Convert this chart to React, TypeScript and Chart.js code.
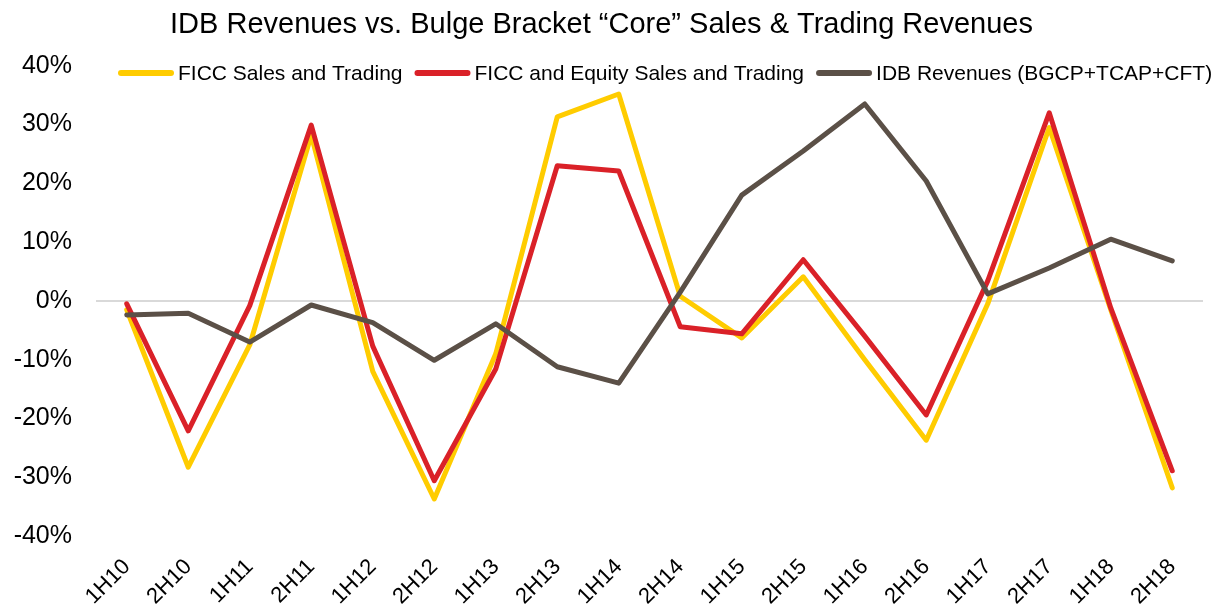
import React, { useEffect, useRef } from "react";
import { Chart, registerables } from "chart.js";

Chart.register(...registerables);

const categories = [
  "1H10", "2H10", "1H11", "2H11", "1H12", "2H12", "1H13", "2H13", "1H14",
  "2H14", "1H15", "2H15", "1H16", "2H16", "1H17", "2H17", "1H18", "2H18",
];

const ficcSalesTrading = [
  -1.5, -28.3, -7.5, 28.2, -12.0, -33.7, -9.0, 31.3, 35.2,
  0.8, -6.3, 4.1, -10.0, -23.7, -0.5, 29.5, -1.5, -31.8,
];

const ficcEquitySalesTrading = [
  -0.5, -22.1, -0.8, 29.9, -7.7, -30.6, -11.6, 23.0, 22.1,
  -4.4, -5.6, 7.0, -6.0, -19.4, 3.4, 32.0, -1.2, -28.9,
];

const idbRevenues = [
  -2.4, -2.1, -7.0, -0.7, -3.7, -10.1, -3.9, -11.2, -14.0,
  1.5, 18.0, 25.5, 33.5, 20.4, 1.2, 5.6, 10.5, 6.8,
];

const seriesNames = [
  "FICC Sales and Trading",
  "FICC and Equity Sales and Trading",
  "IDB Revenues (BGCP+TCAP+CFT)",
];
const seriesColors = ["#FFCC00", "#DA2128", "#5B5047"];

const yMin = -40;
const yMax = 40;
const yStep = 10;

const titleText = "IDB Revenues vs. Bulge Bracket \u201CCore\u201D Sales & Trading Revenues";

const FONT = "'Liberation Sans', Arial, Helvetica, sans-serif";

const legendPlugin = {
  id: "customLegend",
  afterDraw(chart: any) {
    const ctx = chart.ctx;
    ctx.save();
    ctx.font = `21px ${FONT}`;
    ctx.textBaseline = "alphabetic";
    ctx.textAlign = "left";
    let x = 118;
    const lineY = 73;
    const textY = 80;
    chart.data.datasets.forEach((ds: any) => {
      ctx.strokeStyle = ds.borderColor;
      ctx.lineWidth = 6;
      ctx.lineCap = "round";
      ctx.beginPath();
      ctx.moveTo(x + 3, lineY);
      ctx.lineTo(x + 53, lineY);
      ctx.stroke();
      x += 60;
      ctx.fillStyle = "#000000";
      ctx.fillText(ds.label, x, textY);
      x += ctx.measureText(ds.label).width + 12;
    });
    ctx.restore();
  },
};

export default function App() {
  const canvasRef = useRef<HTMLCanvasElement | null>(null);

  useEffect(() => {
    document.body.style.margin = "0";
    const canvas = canvasRef.current;
    if (!canvas) return;
    const seriesData = [ficcSalesTrading, ficcEquitySalesTrading, idbRevenues];
    const chart = new Chart(canvas, {
      type: "line",
      data: {
        labels: categories,
        datasets: seriesData.map((d, i) => ({
          label: seriesNames[i],
          data: d,
          borderColor: seriesColors[i],
          backgroundColor: seriesColors[i],
          borderWidth: 5,
          pointRadius: 0,
          pointHoverRadius: 0,
          tension: 0,
          fill: false,
          borderJoinStyle: "round" as const,
          borderCapStyle: "round" as const,
          order: 2 - i,
        })),
      },
      options: {
        responsive: false,
        animation: false,
        devicePixelRatio: 1,
        events: [],
        layout: { padding: { left: 0, right: 18, top: 0, bottom: 0 } },
        plugins: {
          legend: { display: false },
          tooltip: { enabled: false },
          title: {
            display: true,
            text: titleText,
            color: "#000000",
            font: { family: FONT, size: 29, weight: "normal" as const },
            padding: { top: 8, bottom: 23 },
          },
        },
        scales: {
          x: {
            type: "category",
            offset: true,
            grid: { display: false, drawTicks: false },
            border: { display: false },
            ticks: {
              color: "#000000",
              font: { family: FONT, size: 22 },
              minRotation: 45,
              maxRotation: 45,
              autoSkip: false,
              padding: 18,
            },
            afterFit: (scale: any) => {
              scale.height = 76;
            },
          },
          y: {
            min: yMin,
            max: yMax,
            grid: {
              drawTicks: false,
              lineWidth: 2,
              color: (c: any) => (c.tick && c.tick.value === 0 ? "#D9D9D9" : "rgba(0,0,0,0)"),
            },
            border: { display: false },
            ticks: {
              stepSize: yStep,
              color: "#000000",
              font: { family: FONT, size: 25 },
              padding: 24,
              callback: (v: any) => `${v}%`,
            },
            afterFit: (scale: any) => {
              scale.width = 96;
            },
          },
        },
      },
      plugins: [legendPlugin],
    });
    return () => chart.destroy();
  }, []);

  return (
    <div style={{ width: 1221, height: 612, position: "relative", background: "#ffffff" }}>
      <canvas ref={canvasRef} width={1221} height={612} />
    </div>
  );
}
